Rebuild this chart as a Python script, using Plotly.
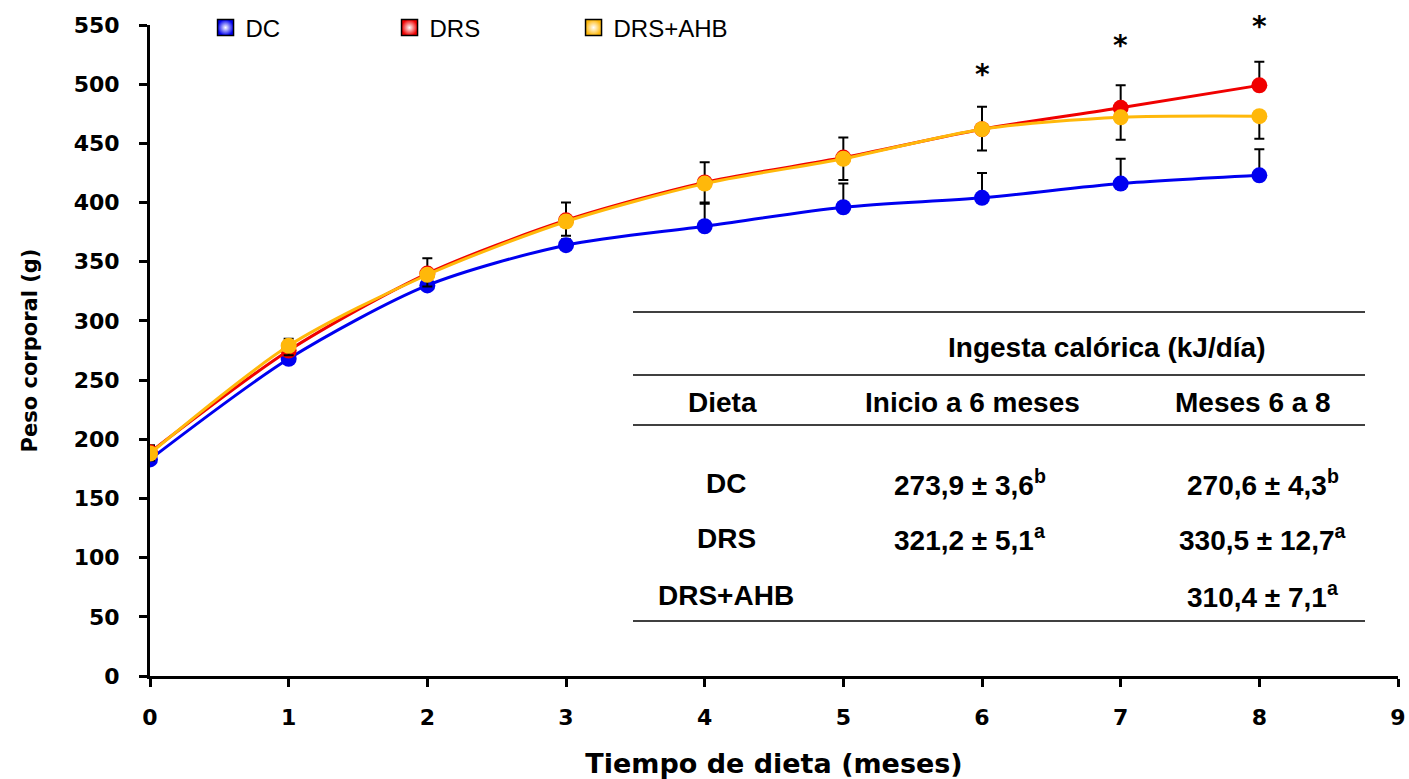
import plotly.graph_objects as go

# ---- data ----
months = [0, 1, 2, 3, 4, 5, 6, 7, 8]
dc = [183, 268, 330, 364, 380, 396, 404, 416, 423]
drs = [189, 275, 340, 385, 417, 438, 462, 480, 499]
drs_ahb = [188, 279, 339, 384, 416, 437, 462, 472, 473]
dc_err = [5, 5, 5, 5, 19, 20, 21, 21, 22]
drs_err = [6, 10, 13, 15, 17, 17, 19, 19, 20]
drs_ahb_err = [6, 8, 10, 12, 16, 18, 18, 19, 19]

star_x = [6, 7, 8]
star_y = [508, 533, 549]

series_names = ["DC", "DRS", "DRS+AHB"]
colors = ["#0000F0", "#F00000", "#FFB80A"]

table_title = "Ingesta calórica (kJ/día)"
table_cols = ["Dieta", "Inicio a 6 meses", "Meses 6 a 8"]
table_rows = ["DC", "DRS", "DRS+AHB"]
intake_0_6 = ["273,9 ± 3,6<sup>b</sup>", "321,2 ± 5,1<sup>a</sup>", ""]
intake_6_8 = ["270,6 ± 4,3<sup>b</sup>", "330,5 ± 12,7<sup>a</sup>", "310,4 ± 7,1<sup>a</sup>"]

fig = go.Figure()

series = [dc, drs, drs_ahb]
errs = [
    dict(type="data", array=dc_err, arrayminus=[0]*9, symmetric=False),
    dict(type="data", array=drs_err, arrayminus=[0]*9, symmetric=False),
    dict(type="data", array=[0]*9, arrayminus=drs_ahb_err, symmetric=False),
]
for name, ys, col, err in zip(series_names, series, colors, errs):
    err.update(color="black", thickness=2, width=5)
    fig.add_trace(go.Scatter(
        x=months, y=ys, mode="lines+markers", name=name,
        line=dict(color=col, width=3, shape="spline", smoothing=0.8),
        marker=dict(color=col, size=16),
        error_y=err, showlegend=False,
    ))

# legend entries
for name, col in zip(series_names, colors):
    fig.add_trace(go.Scatter(
        x=[None], y=[None], mode="markers", name=name,
        marker=dict(symbol="square", size=21, color=col,
                    gradient=dict(type="radial", color="white"),
                    line=dict(color="black", width=1.5)),
    ))

for sx, sy in zip(star_x, star_y):
    fig.add_annotation(x=sx, y=sy, text="*", showarrow=False,
                       xanchor="center", yanchor="middle",
                       font=dict(family="DejaVu Sans", size=28, color="black", weight="bold"))

# table (positions in screen pixels -> paper coords)
def px_x(p):
    return (p - 150) / 1248.0

def px_y(p):
    return (676 - p) / 651.0

for ly in [312, 375, 425, 621]:
    fig.add_shape(type="line", xref="paper", yref="paper",
                  x0=px_x(633), x1=px_x(1365), y0=px_y(ly), y1=px_y(ly),
                  line=dict(color="black", width=1.5))

tfont = dict(family="Liberation Sans", size=28, color="black", weight="bold")

def txt(x, y, s):
    fig.add_annotation(xref="paper", yref="paper", x=px_x(x), y=px_y(y),
                       xanchor="center", yanchor="middle",
                       text=s, showarrow=False, font=tfont)

txt(1106, 347, table_title)
col_x = [722, 972, 1253]
for cx, ct in zip(col_x, table_cols):
    txt(cx, 403, ct)
row_y = [483, 538, 595]
for ry, rl, v1, v2 in zip(row_y, table_rows, intake_0_6, intake_6_8):
    txt(726, ry, rl)
    if v1:
        txt(970, ry, v1)
    txt(1263, ry, v2)

fig.update_layout(
    width=1409, height=779,
    margin=dict(l=150, r=11, t=25, b=103, autoexpand=False),
    plot_bgcolor="white", paper_bgcolor="white",
    legend=dict(orientation="h", x=0.0445, y=0.9954, xanchor="left", yanchor="middle",
                entrywidth=139, entrywidthmode="pixels",
                font=dict(family="Liberation Sans", size=24, color="black"),
                itemwidth=30, bgcolor="rgba(0,0,0,0)"),
)
fig.update_xaxes(
    range=[0, 9], tickmode="array", tickvals=list(range(10)),
    showgrid=False, zeroline=False, automargin=False,
    showline=True, linecolor="black", linewidth=3,
    ticks="outside", ticklen=8, tickwidth=3, tickcolor="black",
    ticklabelstandoff=12, ticklabeloverflow="allow",
    tickfont=dict(family="DejaVu Sans", size=22, color="black", weight="bold"),
    title=dict(text="Tiempo de dieta (meses)", standoff=44,
               font=dict(family="DejaVu Sans", size=27, color="black", weight="bold")),
)
fig.update_yaxes(
    range=[0, 550], tickmode="array", tickvals=list(range(0, 551, 50)),
    showgrid=False, zeroline=False, automargin=False,
    showline=True, linecolor="black", linewidth=3,
    ticks="outside", ticklen=8, tickwidth=3, tickcolor="black",
    ticklabelstandoff=15,
    tickfont=dict(family="DejaVu Sans", size=22, color="black", weight="bold"),
    title=dict(text="Peso corporal (g)", standoff=31,
               font=dict(family="DejaVu Sans", size=21, color="black", weight="bold")),
)

# remove the default page margin so the figure fills the window exactly
fig.write_html("out.html",
               config={"displayModeBar": False},
               post_script="document.body.style.margin='0';document.body.style.overflow='hidden';")
